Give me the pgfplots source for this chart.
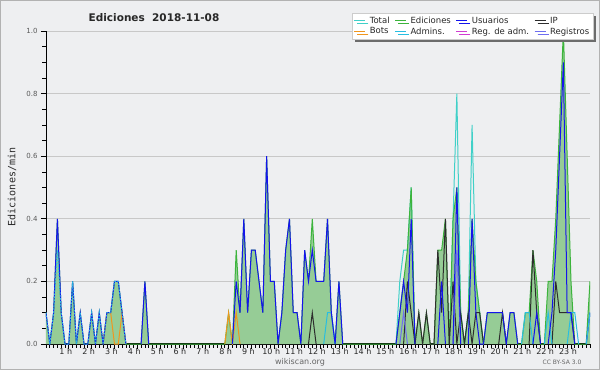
\documentclass[border=0pt]{standalone}
\usepackage{fontspec}
\setmainfont{DejaVu Sans}
\newfontfamily\monof{DejaVu Sans Mono}
\usepackage{pgfplots}
\pgfplotsset{compat=1.18}
\usetikzlibrary{shadows}
\definecolor{bg}{RGB}{238,239,241}
\definecolor{gridc}{RGB}{200,200,200}
\definecolor{edfill}{RGB}{150,204,150}
\definecolor{edline}{RGB}{60,180,60}
\definecolor{total}{RGB}{64,208,200}
\definecolor{users}{RGB}{20,20,235}
\definecolor{ip}{RGB}{45,45,45}
\definecolor{bots}{RGB}{240,150,30}
\definecolor{admins}{RGB}{40,190,225}
\definecolor{regadm}{RGB}{210,60,210}
\definecolor{regs}{RGB}{110,110,240}
\definecolor{txt}{RGB}{40,40,40}
\begin{document}
\begin{tikzpicture}[x=1pt,y=1pt]
\fill[bg] (-46,-26) rectangle (554,344);
\draw[gray!60, line width=1pt] (-45.5,-25.5) rectangle (553.5,343.5);
\node[font=\bfseries\fontsize{10.5}{12}\selectfont, text=txt] at (108,326) {Ediciones\ \ 2018-11-08};
\node[rotate=90, font=\monof\fontsize{10}{11}\selectfont, text=txt] at (-34,157) {Ediciones/min};
\node[font=\fontsize{8}{9}\selectfont, text=gray!80!black] at (254,-18) {wikiscan.org};
\node[font=\fontsize{6}{7}\selectfont, text=gray!80!black] at (516,-18) {CC BY-SA 3.0};
\begin{axis}[
  at={(0,0)}, anchor=south west, scale only axis,
  width=544pt, height=313pt,
  xmin=0, xmax=1430, ymin=0, ymax=1,
  axis x line*=bottom, axis y line*=left,
  axis line style={-},
  x axis line style={line width=1.6pt},
  y axis line style={line width=0.9pt},
  tick align=outside,
  major tick length=5pt, minor tick length=3.5pt,
  xtick={60,120,...,1380},
  xticklabels={1 h,2 h,3 h,4 h,5 h,6 h,7 h,8 h,9 h,10 h,11 h,12 h,13 h,14 h,15 h,16 h,17 h,18 h,19 h,20 h,21 h,22 h,23 h},
  minor xtick={0,10,...,1430},
  ytick={0,0.2,0.4,0.6,0.8,1.0},
  minor ytick={0.05,0.1,...,0.96},
  tick style={black, line width=0.7pt},
  xticklabel style={font=\fontsize{8}{9}\selectfont, text=txt, xshift=-3pt, yshift=4pt},
  yticklabel style={font=\fontsize{7}{8}\selectfont, text=gray!70!black,
    /pgf/number format/fixed, /pgf/number format/precision=1,
    /pgf/number format/fixed zerofill, /pgf/number format/assume math mode=true},
  ymajorgrids, grid style={gridc, line width=0.8pt},
  legend columns=4, legend cell align=left,
  legend image code/.code={\draw[#1] (0pt,0pt) -- (11pt,0pt);},
  legend style={at={(1.0055,1.0575)}, anchor=north east, fill=white, draw=gray!40,
    font=\fontsize{8.5}{9.5}\selectfont, text=txt,
    drop shadow={shadow xshift=3pt, shadow yshift=-3pt, fill=gray!85!black, opacity=1},
    inner sep=1.5pt, row sep=-1pt,
    /tikz/every odd column/.append style={column sep=2pt},
    /tikz/every even column/.append style={column sep=3pt}},
]
\addlegendimage{total, line width=0.9pt}\addlegendentry{Total}
\addlegendimage{edline, line width=0.9pt}\addlegendentry{Ediciones}
\addlegendimage{users, line width=0.9pt}\addlegendentry{Usuarios}
\addlegendimage{ip, line width=0.9pt}\addlegendentry{IP}
\addlegendimage{bots, line width=0.9pt}\addlegendentry{Bots}
\addlegendimage{admins, line width=0.9pt}\addlegendentry{Admins.}
\addlegendimage{regadm, line width=0.9pt}\addlegendentry{Reg. de adm.}
\addlegendimage{regs, line width=0.9pt}\addlegendentry{Registros}
% Ediciones area
\addplot[fill=edfill, draw=none, forget plot] coordinates {
(0,0.1)(10,0)(20,0.1)(30,0.4)(40,0.1)(50,0)(60,0)(70,0.2)(80,0)(90,0.1)(100,0)(110,0)(120,0.1)(130,0)(140,0.1)(150,0)(160,0.1)(170,0.1)(180,0.2)(190,0.2)(200,0.1)(210,0)(250,0)(260,0.2)(270,0)(470,0)(480,0.1)(490,0)(500,0.3)(510,0.1)(520,0.4)(530,0.1)(540,0.3)(550,0.3)(560,0.2)(570,0.1)(580,0.6)(590,0.2)(600,0.2)(610,0)(620,0.1)(630,0.3)(640,0.4)(650,0.1)(660,0.1)(670,0)(680,0.3)(690,0.2)(700,0.4)(710,0.2)(720,0.2)(730,0.2)(740,0.4)(750,0.1)(760,0)(770,0.2)(780,0)(920,0)(930,0.1)(940,0.2)(950,0.3)(960,0.5)(970,0)(980,0.1)(990,0)(1000,0.1)(1010,0)(1020,0)(1030,0.3)(1040,0.3)(1050,0.4)(1060,0)(1070,0.4)(1080,0.5)(1090,0.1)(1100,0)(1110,0.1)(1120,0.4)(1130,0.2)(1140,0.1)(1150,0)(1160,0.1)(1170,0.1)(1180,0.1)(1190,0.1)(1200,0.1)(1210,0)(1220,0.1)(1230,0.1)(1240,0)(1250,0)(1260,0.1)(1270,0.1)(1280,0.3)(1290,0.2)(1300,0)(1310,0)(1320,0.2)(1330,0.2)(1340,0.4)(1350,0.7)(1360,1.0)(1370,0.6)(1380,0.2)(1390,0)(1420,0)(1430,0.2)
} \closedcycle;
% Total
\addplot[total, line width=1pt, forget plot] coordinates {(920,0)(930,0.2)(940,0.3)(950,0.3)(960,0.5)(970,0)};
\addplot[total, line width=1pt, forget plot] coordinates {(1060,0)(1070,0.4)(1080,0.8)(1090,0.1)(1100,0)(1110,0.1)(1120,0.7)(1130,0.2)(1140,0.1)(1150,0)};
% Ediciones line
\addplot[edline, line width=1pt, forget plot] coordinates {
(0,0.1)(10,0)(20,0.1)(30,0.4)(40,0.1)(50,0)(60,0)(70,0.2)(80,0)(90,0.1)(100,0)(110,0)(120,0.1)(130,0)(140,0.1)(150,0)(160,0.1)(170,0.1)(180,0.2)(190,0.2)(200,0.1)(210,0)(250,0)(260,0.2)(270,0)(470,0)(480,0.1)(490,0)(500,0.3)(510,0.1)(520,0.4)(530,0.1)(540,0.3)(550,0.3)(560,0.2)(570,0.1)(580,0.6)(590,0.2)(600,0.2)(610,0)(620,0.1)(630,0.3)(640,0.4)(650,0.1)(660,0.1)(670,0)(680,0.3)(690,0.2)(700,0.4)(710,0.2)(720,0.2)(730,0.2)(740,0.4)(750,0.1)(760,0)(770,0.2)(780,0)(920,0)(930,0.1)(940,0.2)(950,0.3)(960,0.5)(970,0)(980,0.1)(990,0)(1000,0.1)(1010,0)(1020,0)(1030,0.3)(1040,0.3)(1050,0.4)(1060,0)(1070,0.4)(1080,0.5)(1090,0.1)(1100,0)(1110,0.1)(1120,0.4)(1130,0.2)(1140,0.1)(1150,0)(1160,0.1)(1170,0.1)(1180,0.1)(1190,0.1)(1200,0.1)(1210,0)(1220,0.1)(1230,0.1)(1240,0)(1250,0)(1260,0.1)(1270,0.1)(1280,0.3)(1290,0.2)(1300,0)(1310,0)(1320,0.2)(1330,0.2)(1340,0.4)(1350,0.7)(1360,1.0)(1370,0.6)(1380,0.2)(1390,0)(1420,0)(1430,0.2)
};
% Bots
\addplot[bots, line width=1pt, forget plot] coordinates {(150,0)(160,0.1)(170,0.1)(180,0)(190,0)(200,0.1)(210,0)};
\addplot[bots, line width=1pt, forget plot] coordinates {(470,0)(480,0.1)(490,0)(500,0.1)(510,0)};
% IP
\addplot[ip, line width=1pt, forget plot] coordinates {(690,0)(700,0.1)(710,0)};
\addplot[ip, line width=1pt, forget plot] coordinates {(940,0)(950,0.2)(960,0.1)(970,0)(980,0.1)(990,0)(1000,0.1)(1010,0)(1020,0)(1030,0.3)(1040,0.1)(1050,0.4)(1060,0)(1070,0.2)(1080,0)(1090,0.1)(1100,0)(1110,0.1)(1120,0)(1130,0.1)(1140,0.1)(1150,0)};
\addplot[ip, line width=1pt, forget plot] coordinates {(1190,0)(1200,0.1)(1210,0)};
\addplot[ip, line width=1pt, forget plot] coordinates {(1270,0)(1280,0.3)(1290,0.1)(1300,0)};
\addplot[ip, line width=1pt, forget plot] coordinates {(1330,0)(1340,0.2)(1350,0.1)(1360,0.1)(1370,0.1)(1380,0.1)(1390,0)};
% Registros
\addplot[regs, line width=1pt, forget plot] coordinates {(930,0)(940,0.1)(950,0)};
\addplot[regs, line width=1pt, forget plot] coordinates {(1070,0)(1080,0.3)(1090,0)};
% Admins (later)
\addplot[admins, line width=1pt, forget plot] coordinates {(730,0)(740,0.1)(750,0.1)(760,0)};
\addplot[admins, line width=1pt, forget plot] coordinates {(1250,0)(1260,0.1)(1270,0.1)(1280,0)};
\addplot[admins, line width=1pt, forget plot] coordinates {(1310,0)(1320,0.1)(1330,0)};
\addplot[admins, line width=1pt, forget plot] coordinates {(1370,0)(1380,0.1)(1390,0.1)(1400,0)};
% Usuarios
\addplot[users, line width=1pt, forget plot] coordinates {
(0,0.1)(10,0)(20,0.1)(30,0.4)(40,0.1)(50,0)(60,0)(70,0.2)(80,0)(90,0.1)(100,0)(110,0)(120,0.1)(130,0)(140,0.1)(150,0)(160,0.1)(170,0.1)(180,0.2)(190,0.2)(200,0.1)(210,0)};
\addplot[users, line width=1pt, forget plot] coordinates {(250,0)(260,0.2)(270,0)};
\addplot[users, line width=1pt, forget plot] coordinates {
(490,0)(500,0.2)(510,0.1)(520,0.4)(530,0.1)(540,0.3)(550,0.3)(560,0.2)(570,0.1)(580,0.6)(590,0.2)(600,0.2)(610,0)(620,0.1)(630,0.3)(640,0.4)(650,0.1)(660,0.1)(670,0)(680,0.3)(690,0.2)(700,0.3)(710,0.2)(720,0.2)(730,0.2)(740,0.4)(750,0.1)(760,0)(770,0.2)(780,0)};
\addplot[users, line width=1pt, forget plot] coordinates {(920,0)(930,0.1)(940,0.2)(950,0.1)(960,0.4)(970,0)};
\addplot[users, line width=1pt, forget plot] coordinates {(1030,0)(1040,0.2)(1050,0)};
\addplot[users, line width=1pt, forget plot] coordinates {(1070,0)(1080,0.5)(1090,0)};
\addplot[users, line width=1pt, forget plot] coordinates {(1110,0)(1120,0.4)(1130,0.1)(1140,0)(1150,0)(1160,0.1)(1170,0.1)(1180,0.1)(1190,0.1)(1200,0.1)(1210,0)(1220,0.1)(1230,0.1)(1240,0)};
\addplot[users, line width=1pt, forget plot] coordinates {(1280,0)(1290,0.1)(1300,0)};
\addplot[users, line width=1pt, forget plot] coordinates {(1320,0)(1330,0.1)(1340,0.3)(1350,0.6)(1360,0.9)(1370,0.1)(1380,0.1)(1390,0)};
\addplot[users, line width=1pt, forget plot] coordinates {(1420,0)(1430,0.1)};
% Admins early (overlapping users)
\addplot[admins, line width=1pt, dash pattern=on 1.5pt off 1.5pt, forget plot] coordinates {
(0,0.1)(10,0)(20,0.1)(30,0.3)(40,0.1)(50,0)(60,0)(70,0.2)(80,0)(90,0.1)(100,0)(110,0)(120,0.1)(130,0)(140,0.1)(150,0)(160,0.1)(170,0.1)(180,0.2)(190,0.2)(200,0.1)(210,0)};
\addplot[admins, line width=1pt, forget plot] coordinates {(1420,0)(1430,0.1)};
\end{axis}
\end{tikzpicture}
\end{document}
